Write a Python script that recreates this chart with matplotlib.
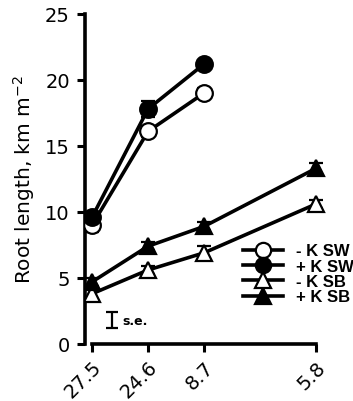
import matplotlib.pyplot as plt
import matplotlib as mpl
from matplotlib.lines import Line2D

x_labels = ["27.5", "24.6", "8.7", "5.8"]
x_pos = [0, 1, 2, 4]

minus_k_sw = [9.0, 16.1, 19.0]
plus_k_sw = [9.6, 17.8, 21.2]
minus_k_sb = [3.8, 5.6, 6.9, 10.6]
plus_k_sb = [4.7, 7.4, 8.9, 13.3]

se_minus_k_sw = [0.5, 0.4, 0.4]
se_plus_k_sw = [0.4, 0.6, 0.2]
se_minus_k_sb = [0.4, 0.3, 0.5, 0.3]
se_plus_k_sb = [0.3, 0.3, 0.3, 0.4]

series_labels = ['- K SW', '+ K SW', '- K SB', '+ K SB']


def main():
    mpl.rcParams['font.family'] = ['DejaVu Sans']

    fig = plt.figure(figsize=(3.53, 4.02), dpi=100)
    ax = fig.add_axes([0.241, 0.142, 0.694, 0.821])

    common = dict(color='black', lw=2.6, capsize=5, elinewidth=1.5,
                  markeredgewidth=1.6, markeredgecolor='black', zorder=3)
    ax.errorbar(x_pos[:3], minus_k_sw, yerr=se_minus_k_sw, marker='o', ms=12,
                mfc='white', **common)
    ax.errorbar(x_pos[:3], plus_k_sw, yerr=se_plus_k_sw, marker='o', ms=12,
                mfc='black', **common)
    ax.errorbar(x_pos, minus_k_sb, yerr=se_minus_k_sb, marker='^', ms=12,
                mfc='white', **common)
    ax.errorbar(x_pos, plus_k_sb, yerr=se_plus_k_sb, marker='^', ms=12,
                mfc='black', **common)

    # s.e. marker
    ax.errorbar([0.36], [1.8], yerr=[0.6], color='black', lw=0, elinewidth=1.6,
                capsize=4, capthick=1.6)
    ax.text(0.55, 1.8, 's.e.', fontsize=9, fontweight='bold', va='center', ha='left')

    ax.set_xlim(-0.125, 4.25)
    ax.set_ylim(0, 25)
    ax.set_xticks(x_pos)
    ax.set_xticklabels(x_labels, rotation=45, ha='right', rotation_mode='anchor')
    ax.set_yticks([0, 5, 10, 15, 20, 25])
    ax.tick_params(axis='both', labelsize=14, width=2.2, length=6)
    ax.tick_params(axis='y', pad=5)
    ax.set_ylabel('Root length, km m$^{-2}$', fontsize=14.5, labelpad=6)

    for s in ['top', 'right']:
        ax.spines[s].set_visible(False)
    ax.spines['left'].set_linewidth(2.6)
    ax.spines['bottom'].set_linewidth(2.6)
    ax.spines['bottom'].set_bounds(0, 4)

    styles = [('o', 'white'), ('o', 'black'), ('^', 'white'), ('^', 'black')]
    handles = [Line2D([], [], color='black', lw=2.6, marker=m, ms=11, mfc=fc,
                      mec='black', mew=1.6) for m, fc in styles]
    fig.legend(handles, series_labels, loc='center left',
               bbox_to_anchor=(0.688, 0.316),
               frameon=False, borderpad=0, borderaxespad=0,
               handlelength=2.4, handletextpad=0.8, labelspacing=0.02,
               prop={'family': 'Liberation Sans', 'size': 12, 'weight': 'bold'})

    fig.savefig('out.png', dpi=100)


if __name__ == '__main__':
    main()
